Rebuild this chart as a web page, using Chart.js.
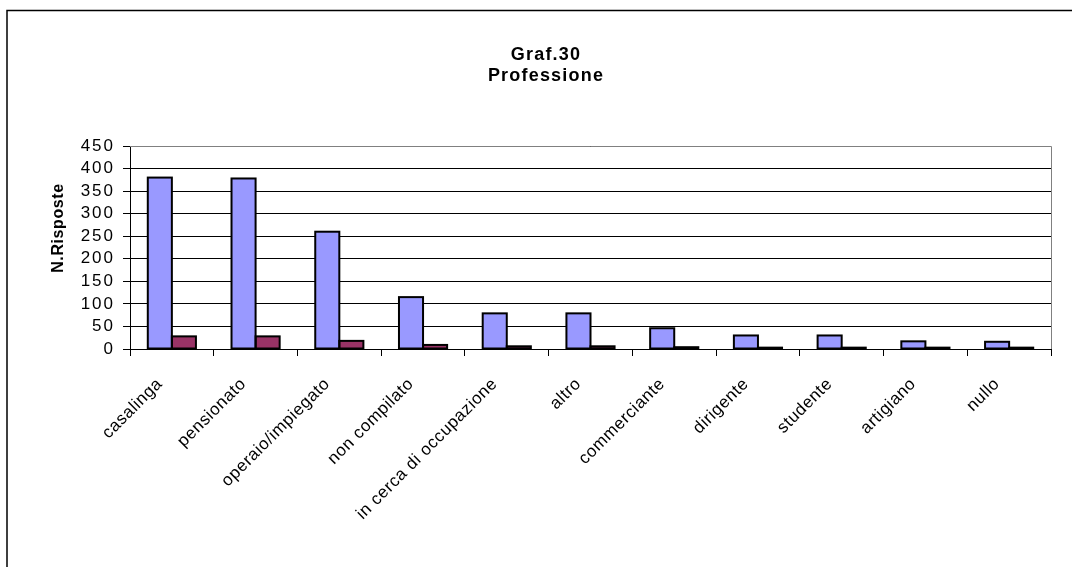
<!DOCTYPE html>
<html>
<head>
<meta charset="utf-8">
<script src="https://cdn.jsdelivr.net/npm/chart.js@4/dist/chart.umd.min.js"></script>
<style>
html,body{margin:0;padding:0;background:#fff;}
#wrap{position:relative;width:1072px;height:567px;}
canvas{position:absolute;left:0;top:0;}
</style>
</head>
<body>
<div id="wrap"><canvas id="c" width="1072" height="567"></canvas></div>
<script>
const categories = ["casalinga","pensionato","operaio/impiegato","non compilato","in cerca di occupazione","altro","commerciante","dirigente","studente","artigiano","nullo"];
const seriesA = [380,378,260,115,79,79,46,30,30,17,16];
const seriesB = [28,28,18,9,6,6,4,3,3,3,3];
const yTicks = [0,50,100,150,200,250,300,350,400,450];
const titleLines = ["Graf.30","Professione"];
const yTitle = "N.Risposte";

const FONT = "'Liberation Sans', Arial, sans-serif";

function patchSpacing(chart, scale, spacing) {
  if (scale._patched) return;
  const ctx = chart.ctx;
  const orig = scale.drawLabels.bind(scale);
  scale.drawLabels = function(ca) { ctx.letterSpacing = spacing; orig(ca); ctx.letterSpacing = '0px'; };
  scale._patched = true;
}

const decor = {
  id: 'decor',
  beforeDraw(chart) {
    const ctx = chart.ctx;
    patchSpacing(chart, chart.scales.y, '2px');
    patchSpacing(chart, chart.scales.x, '0.6px');
    ctx.save();
    ctx.fillStyle = '#fff';
    ctx.fillRect(0,0,chart.width,chart.height);
    ctx.strokeStyle = '#000';
    ctx.lineWidth = 1.5;
    ctx.beginPath();
    ctx.moveTo(7, 600);
    ctx.lineTo(7, 10.5);
    ctx.lineTo(1100, 10.5);
    ctx.stroke();
    ctx.restore();
  },
  afterDatasetsDraw(chart) {
    const ctx = chart.ctx;
    ctx.save();
    ctx.strokeStyle = '#000';
    ctx.lineWidth = 2;
    chart.data.datasets.forEach((ds, i) => {
      chart.getDatasetMeta(i).data.forEach(bar => {
        const p = bar.getProps(['x','y','base','width'], true);
        ctx.strokeRect(p.x - p.width/2, p.y, p.width, p.base - p.y);
      });
    });
    ctx.restore();
  },
  afterDraw(chart) {
    const ctx = chart.ctx;
    const a = chart.chartArea;
    ctx.save();
    ctx.strokeStyle = '#808080';
    ctx.lineWidth = 1;
    ctx.beginPath();
    ctx.moveTo(a.left, Math.round(a.top)+0.5);
    ctx.lineTo(Math.round(a.right)+0.5, Math.round(a.top)+0.5);
    ctx.lineTo(Math.round(a.right)+0.5, a.bottom);
    ctx.stroke();
    ctx.strokeStyle = '#000';
    ctx.beginPath();
    ctx.moveTo(a.left, Math.round(a.bottom)+0.5);
    ctx.lineTo(a.right, Math.round(a.bottom)+0.5);
    ctx.stroke();
    ctx.fillStyle = '#000';
    ctx.textAlign = 'center';
    ctx.textBaseline = 'middle';
    ctx.letterSpacing = '1.2px';
    ctx.font = "bold 18px " + FONT;
    ctx.fillText(titleLines[0], 546, 55);
    ctx.fillText(titleLines[1], 546, 76);
    ctx.translate(59, 228);
    ctx.rotate(-Math.PI/2);
    ctx.letterSpacing = '0.6px';
    ctx.font = "bold 16px " + FONT;
    ctx.fillText(yTitle, 0, 0);
    ctx.restore();
    ctx.letterSpacing = '0px';
  }
};

new Chart(document.getElementById('c'), {
  type: 'bar',
  data: {
    labels: categories,
    datasets: [
      {label: 'A', data: seriesA, backgroundColor: '#9999FF', borderWidth: 0, categoryPercentage: 0.575, barPercentage: 1},
      {label: 'B', data: seriesB, backgroundColor: '#993366', borderWidth: 0, categoryPercentage: 0.575, barPercentage: 1}
    ]
  },
  options: {
    responsive: false,
    animation: false,
    devicePixelRatio: 1,
    layout: {padding: {left: 0, top: 146, right: 21, bottom: 0}},
    plugins: {legend: {display: false}, title: {display: false}, tooltip: {enabled: false}},
    scales: {
      x: {
        offset: true,
        grid: {offset: true, drawOnChartArea: false, drawTicks: true, tickLength: 7, color: '#000', lineWidth: 1},
        border: {color: '#000', width: 1},
        ticks: {color: '#000', font: {family: FONT, size: 17}, minRotation: 45, maxRotation: 45, padding: 18, labelOffset: -12, autoSkip: false},
        afterFit(s) { s.height = 218; }
      },
      y: {
        min: 0, max: 450,
        afterBuildTicks(s) { s.ticks = yTicks.map(v => ({value: v})); },
        grid: {color: '#000', lineWidth: 1, drawTicks: true, tickLength: 7},
        border: {color: '#000', width: 1},
        ticks: {color: '#000', font: {family: FONT, size: 17}, padding: 8, autoSkip: false},
        afterFit(s) { s.width = 130; }
      }
    }
  },
  plugins: [decor]
});
</script>
</body>
</html>
